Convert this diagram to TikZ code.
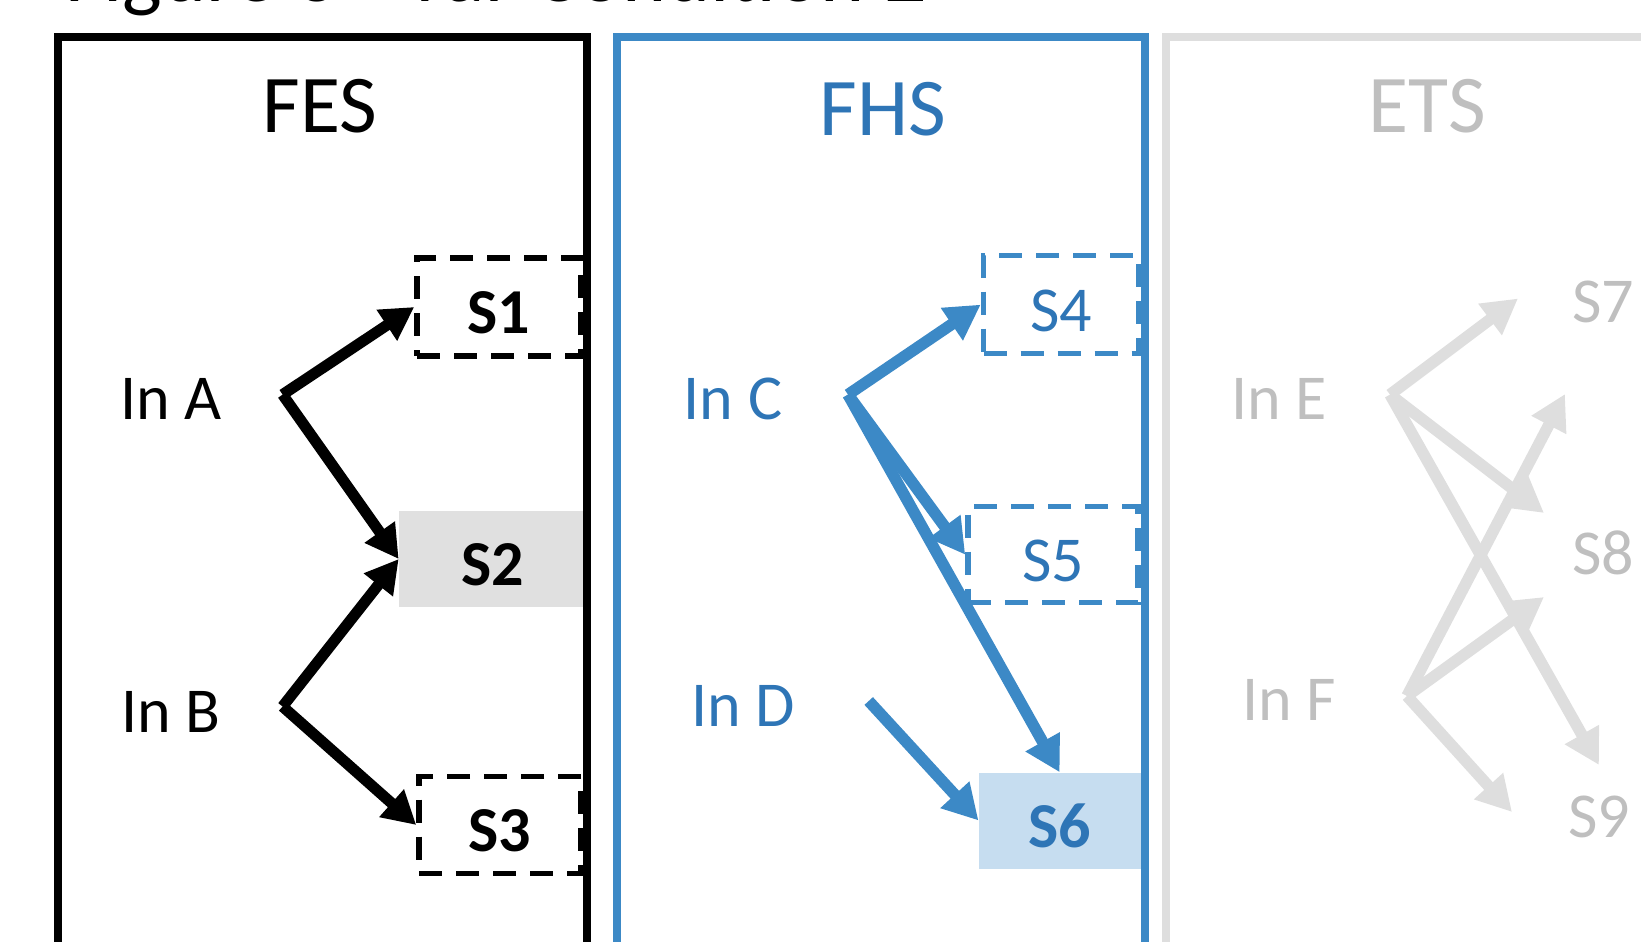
\documentclass[tikz,border=0pt]{standalone}
\usepackage{fontspec}
\setmainfont{Carlito}
\usetikzlibrary{arrows.meta}

\definecolor{fhsline}{HTML}{3C89C6}
\definecolor{fhstext}{HTML}{2E75B6}
\definecolor{fhsfill}{HTML}{C6DDF0}
\definecolor{fesfill}{HTML}{E0E0E0}
\definecolor{etsline}{HTML}{DEDEDE}
\definecolor{etstext}{HTML}{BFBFBF}

\tikzset{
  panel/.style={line width=8pt},
  heading/.style={inner sep=0pt,font=\fontsize{82}{90}\selectfont},
  input/.style={inner sep=0pt,font=\fontsize{64}{72}\selectfont},
  label/.style={inner sep=0pt,text height=53pt,text depth=0pt,font=\fontsize{64}{70}\selectfont},
  dashbox/.style={label,draw,line width=5.5pt,dash pattern=on 23pt off 14pt},
  link/.style={line width=11pt,-{Triangle[length=33pt,width=35pt]}},
  biglink/.style={line width=11.5pt,-{Triangle[length=35pt,width=37pt]}},
}

\begin{document}
\begin{tikzpicture}[x=1pt,y=-1pt]
    \useasboundingbox (0,0) rectangle (1641,942);
    \clip (0,0) rectangle (1641,942);
    \node[anchor=base west,inner sep=0pt,font=\fontsize{84}{90}\selectfont] (title) at (65,1.5) {Figure 3 - Var Condition 2};

    \node[heading] (fes) at (320,106) {FES};
    \node[input] (ina) at (171,399) {In A};
    \node[input] (inb) at (171,712) {In B};
    \node[dashbox,minimum width=164pt,minimum height=98pt] (s1) at (499,307) {\bfseries S1};
    \node[label,fill=fesfill,minimum width=187pt,minimum height=96pt] (s2) at (492.4,559) {\bfseries S2};
    \node[dashbox,minimum width=162pt,minimum height=97pt] (s3) at (500,825) {\bfseries S3};
    \coordinate (a) at (282.6,394.6);
    \coordinate (b) at (282.6,706.5);
    \draw[link] (a) -- (s1.west);
    \draw[link] (a) -- (s2.west);
    \draw[link] (b) -- (s2.west);
    \draw[link] (b) -- (s3.west);

    \node[heading,text=fhstext] (fhs) at (883,109) {FHS};
    \node[input,text=fhstext] (inc) at (733,399) {In C};
    \node[input,text=fhstext] (ind) at (743,706) {In D};
    \node[dashbox,draw=fhsline,text=fhstext,minimum width=155pt,minimum height=98pt] (s4) at (1061,304.6) {S4};
    \node[dashbox,draw=fhsline,text=fhstext,minimum width=170pt,minimum height=96pt] (s5) at (1053,554.7) {S5};
    \node[label,fill=fhsfill,text=fhstext,minimum width=162pt,minimum height=96pt] (s6) at (1059.7,820.5) {\bfseries S6};
    \coordinate (c) at (848,394.6);
    \coordinate (d) at (868.7,701);
    \draw[biglink,fhsline] (c) -- (s4.west);
    \draw[biglink,fhsline] (c) -- (s5.west);
    \draw[biglink,fhsline] (c) -- (s6.north);
    \draw[biglink,fhsline] (d) -- (s6.west);

    \node[heading,text=etstext] (ets) at (1427.6,106) {ETS};
    \node[input,text=etstext] (ine) at (1279.5,399) {In E};
    \node[input,text=etstext] (inf) at (1289,700) {In F};
    \node[label,text=etstext] (s7) at (1603,296) {S7};
    \node[label,text=etstext] (s8) at (1603,548) {S8};
    \node[label,text=etstext] (s9) at (1599,811) {S9};
    \coordinate (e) at (1390,394.6);
    \coordinate (f) at (1407,696);
    \coordinate (e7) at (1518,298.5);
    \coordinate (e8) at (1544,513);
    \coordinate (e9) at (1599,765);
    \coordinate (f7) at (1565,394);
    \coordinate (f8) at (1544,597);
    \coordinate (f9) at (1512,812);
    \foreach \t in {e7,e8,e9}
        \draw[biglink,etsline] (e) -- (\t);
    \foreach \t in {f7,f8,f9}
        \draw[biglink,etsline] (f) -- (\t);

    \draw[panel] (57.5,1000) rectangle (586.5,37);
    \draw[panel,fhsline] (617,1000) rectangle (1144.5,37);
    \draw[panel,etsline] (1166,1000) rectangle (1700,37);
\end{tikzpicture}
\end{document}
